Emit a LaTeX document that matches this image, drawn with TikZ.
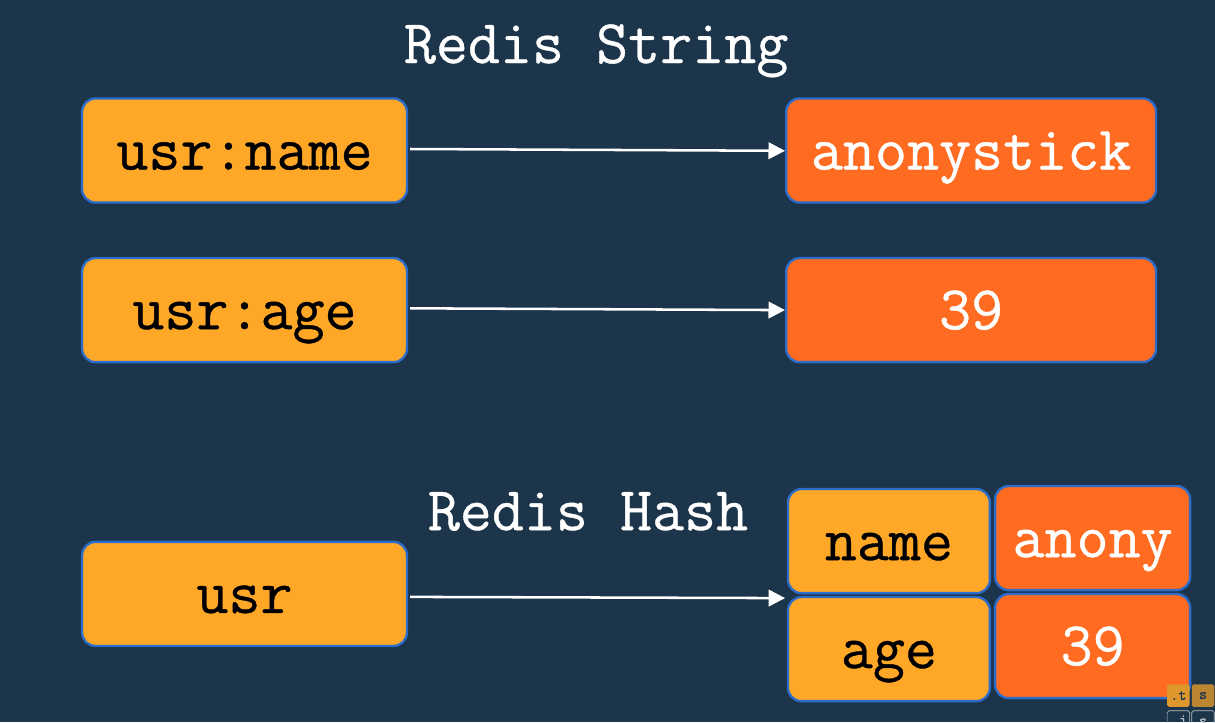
\documentclass[tikz,border=0pt]{standalone}
\usepackage{fontspec}
\newfontfamily\slidefont{Latin Modern Mono}[FakeBold=0.6]
\usetikzlibrary{arrows.meta}
\definecolor{slidebg}{HTML}{1C354A}
\definecolor{keyfill}{HTML}{FFA828}
\definecolor{valfill}{HTML}{FF6B20}
\definecolor{boxline}{HTML}{2C6CCB}
\tikzset{
  slidetext/.style={font=\slidefont\fontsize{59}{60}\selectfont, text height=1.57cm, text depth=0.3cm},
  slidebox/.style={slidetext, draw=boxline, line width=2.2pt, rounded corners=0.45cm, inner sep=0pt},
  keybox/.style={slidebox, fill=keyfill, text=black},
  valbox/.style={slidebox, fill=valfill, text=white},
  titletext/.style={slidetext, text=white, inner sep=0pt},
  linkarrow/.style={white, line width=2.4pt, -{Triangle[length=0.55cm, width=0.55cm]}, shorten <=0.07cm},
  hintkey/.style={rounded corners=0.06cm, inner sep=0pt, minimum width=0.75cm, minimum height=0.75cm, font=\slidefont\fontsize{15}{15}\selectfont},
  hintlow/.style={hintkey, draw=white!70!slidebg, line width=0.6pt, text=white!70!slidebg}
}
\begin{document}
\begin{tikzpicture}
\useasboundingbox (0,0) rectangle (40.5,24.067);
\clip (0,0) rectangle (40.5,24.067);
\fill[slidebg] (0,0) rectangle (40.5,24.067);
\node[titletext] (stringtitle) at (19.87, 22.6) {Redis String};
\node[titletext] (hashtitle) at (19.6, 7.03) {Redis Hash};

\node[keybox, minimum width=10.83cm, minimum height=3.47cm] (usrname) at (8.15, 19.05) {usr:name};
\node[valbox, minimum width=12.33cm, minimum height=3.47cm] (valname) at (32.37, 19.05) {anonystick};
\node[keybox, minimum width=10.83cm, minimum height=3.47cm] (usrage) at (8.15, 13.73) {usr:age};
\node[valbox, minimum width=12.33cm, minimum height=3.47cm] (valage) at (32.37, 13.73) {39};
\node[keybox, minimum width=10.83cm, minimum height=3.47cm] (usr) at (8.15, 4.27) {usr};

\node[keybox, minimum width=6.73cm, minimum height=3.47cm] (fieldname) at (29.63, 6.03) {name};
\node[keybox, minimum width=6.73cm, minimum height=3.47cm] (fieldage) at (29.63, 2.43) {age};
\node[valbox, minimum width=6.5cm, minimum height=3.47cm] (fieldanony) at (36.42, 6.13) {anony};
\node[valbox, minimum width=6.5cm, minimum height=3.47cm] (fieldnum) at (36.42, 2.53) {39};

\coordinate (hashin) at (26.17, 4.13);
\draw[linkarrow] ([yshift=0.05cm]usrname.east) -- ([yshift=-0.01cm]valname.west);
\draw[linkarrow] ([yshift=0.06cm]usrage.east) -- (valage.west);
\draw[linkarrow] ([yshift=-0.1cm]usr.east) -- (hashin);

\node[hintkey, fill=keyfill!85!slidebg, text=slidebg] (hintdott) at (39.28, 0.88) {.t};
\node[hintkey, fill=keyfill!70!slidebg, text=slidebg] (hintsa) at (40.1, 0.88) {s};
\node[hintlow] (hintdotj) at (39.28, 0) {.j};
\node[hintlow] (hintsb) at (40.1, 0) {s};
\end{tikzpicture}
\end{document}
